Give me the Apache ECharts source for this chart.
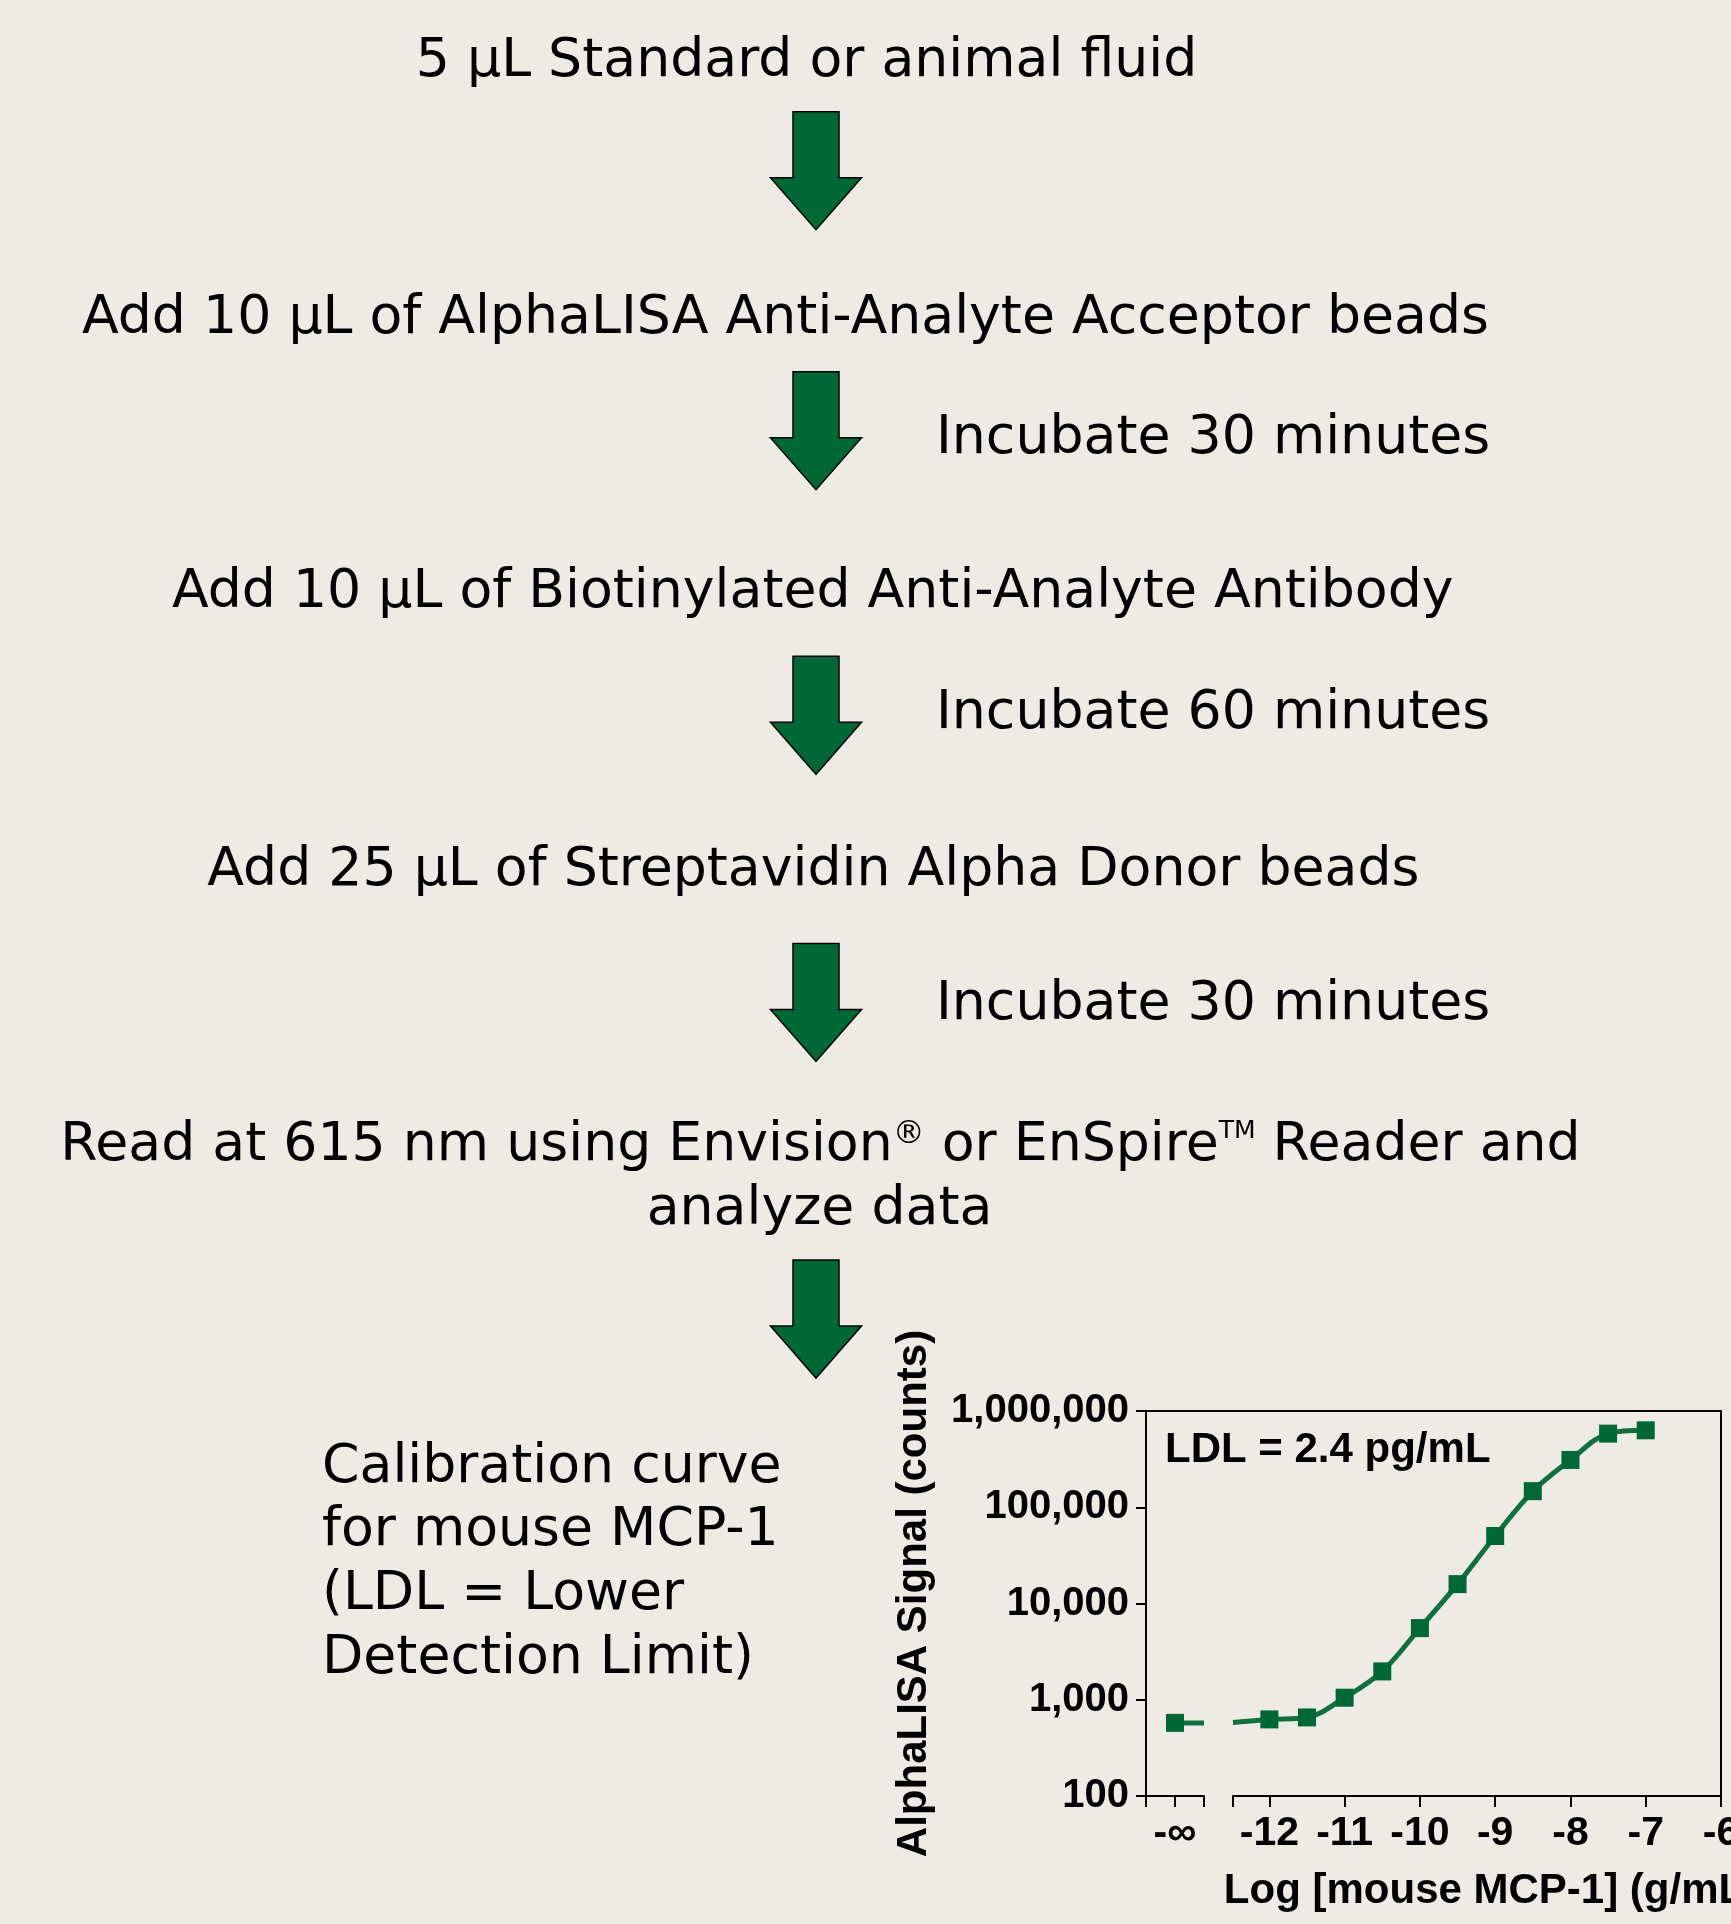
<!DOCTYPE html>
<html><head><meta charset="utf-8">
<script src="https://cdn.jsdelivr.net/npm/echarts@6/dist/echarts.min.js"></script>
<style>html,body{margin:0;padding:0;background:#EDEBE4;}#c{width:1731px;height:1924px;}</style>
</head><body><div id="c"></div>
<script>
// ---------- data ----------
const stepTexts = [
  '5 µL Standard or animal fluid',
  'Add 10 µL of AlphaLISA Anti-Analyte Acceptor beads',
  'Add 10 µL of Biotinylated Anti-Analyte Antibody',
  'Add 25 µL of Streptavidin Alpha Donor beads'
];
const incubateTexts = ['Incubate 30 minutes', 'Incubate 60 minutes', 'Incubate 30 minutes'];
const readLine1 = '{n|Read at 615 nm using Envision}{r|®}{n| or EnSpire}{t|TM}{n| Reader and}';
const readLine2 = 'analyze data';
const noteLines = ['Calibration curve', 'for mouse MCP-1', '(LDL = Lower', 'Detection Limit)'];
const ldlText = 'LDL = 2.4 pg/mL';
const xName = 'Log [mouse MCP-1] (g/mL)';
const yName = 'AlphaLISA Signal (counts)';
const infLabel = '-∞';
const xTickValues = [-12, -11, -10, -9, -8, -7, -6];
const xMinRight = -12.483;
const yTickLabels = ['100', '1,000', '10,000', '100,000', '1,000,000'];
const blankSignal = 575;          // signal at -∞ (no analyte)
const logConc = [-12, -11.5, -11, -10.5, -10, -9.5, -9, -8.5, -8, -7.5, -7];
const signal  = [625, 655, 1050, 1970, 5550, 15900, 50300, 147000, 310000, 582000, 630000];
const curveStartSignal = 580;     // fitted curve value at left end of axis

// ---------- layout / style ----------
const GREEN = '#006837', LINE = '#11703F', BG = '#EDEBE4';
const FLOW_FONT = '53.7px "DejaVu Sans", Verdana, sans-serif';
const AX_FAM = '"Liberation Sans", Arial, Helvetica, sans-serif';
const boxL = 1146, boxR = 1721, boxT = 1411, boxB = 1796;
const segAR = 1204, segBL = 1233;
const arrowCX = 816;
const arrowTops = [111.7, 371.7, 656.3, 943.4, 1260];
const stepPos = [[806.5, 62], [785.5, 319], [812.7, 593], [813.4, 871]];
const incPos = [[936, 439], [936, 714], [936, 1005]];

function arrow(y0) {
  const cx = arrowCX;
  return {
    type: 'polygon',
    shape: { points: [[cx - 23, y0], [cx + 23, y0], [cx + 23, y0 + 66], [cx + 45.5, y0 + 66],
                      [cx, y0 + 118], [cx - 45.5, y0 + 66], [cx - 23, y0 + 66]] },
    style: { fill: GREEN, stroke: '#000', lineWidth: 1.5 }
  };
}
const graphics = [];
arrowTops.forEach(y => graphics.push(arrow(y)));
stepTexts.forEach((t, i) => graphics.push({
  type: 'text', x: stepPos[i][0], y: stepPos[i][1],
  style: { text: t, font: FLOW_FONT, fill: '#000', align: 'center', verticalAlign: 'middle' }
}));
incubateTexts.forEach((t, i) => graphics.push({
  type: 'text', x: incPos[i][0], y: incPos[i][1],
  style: { text: t, font: FLOW_FONT, fill: '#000', align: 'left', verticalAlign: 'middle' }
}));
graphics.push({
  type: 'text', x: 820.5, y: 1146,
  style: { text: readLine1, fill: '#000', align: 'center', verticalAlign: 'middle',
    rich: {
      n: { font: FLOW_FONT, fill: '#000' },
      r: { font: '32px "DejaVu Sans", Verdana, sans-serif', fill: '#000', verticalAlign: 'top', padding: [0, 0, 22, 0] },
      t: { font: '25px "DejaVu Sans", Verdana, sans-serif', fill: '#000', verticalAlign: 'top', padding: [0, 0, 26, 0] }
    } }
});
graphics.push({
  type: 'text', x: 819.5, y: 1210,
  style: { text: readLine2, font: FLOW_FONT, fill: '#000', align: 'center', verticalAlign: 'middle' }
});
graphics.push({
  type: 'text', x: 322, y: 1436,
  style: { text: noteLines.join('\n'), font: FLOW_FONT, fill: '#000', align: 'left', verticalAlign: 'top', lineHeight: 63.7 }
});
graphics.push({
  type: 'text', x: 1165, y: 1450,
  style: { text: ldlText, font: 'bold 42px ' + AX_FAM, fill: '#000', align: 'left', verticalAlign: 'middle' }
});

const axLine = { show: true, onZero: false, lineStyle: { color: '#000', width: 2 } };
const tickStyle = { color: '#000', width: 2 };
const labFont = { fontFamily: AX_FAM, fontWeight: 'bold', color: '#000' };
const gridBase = { containLabel: false, outerBoundsMode: 'none' };

const option = {
  backgroundColor: BG,
  animation: false,
  grid: [
    { ...gridBase, left: boxL, top: boxT, width: segAR - boxL, height: boxB - boxT },
    { ...gridBase, left: segBL, top: boxT, width: boxR - segBL, height: boxB - boxT },
    { ...gridBase, left: boxL, top: boxT, width: boxR - boxL, height: boxB - boxT }
  ],
  xAxis: [
    { gridIndex: 0, type: 'value', min: 0, max: 2, interval: 1,
      axisLine: axLine, splitLine: { show: false },
      axisTick: { show: true, length: 11, lineStyle: tickStyle },
      axisLabel: { ...labFont, fontSize: 41, margin: 17, showMinLabel: true, showMaxLabel: true,
                   formatter: v => (v === 1 ? infLabel : '') } },
    { gridIndex: 1, type: 'value', min: xMinRight, max: -6,
      axisLine: axLine, splitLine: { show: false },
      axisTick: { show: true, length: 11, lineStyle: tickStyle, customValues: [xMinRight].concat(xTickValues) },
      axisLabel: { ...labFont, fontSize: 41, margin: 17, customValues: xTickValues, formatter: v => String(v) },
      name: xName, nameLocation: 'middle', nameGap: 74,
      nameTextStyle: { ...labFont, fontSize: 42, padding: [0, 0, 0, 28] } },
    { gridIndex: 2, type: 'value', position: 'top', min: 0, max: 1,
      axisLine: axLine, axisTick: { show: false }, axisLabel: { show: false }, splitLine: { show: false } }
  ],
  yAxis: [
    { gridIndex: 0, type: 'log', min: 100, max: 1e6, show: false },
    { gridIndex: 1, type: 'log', min: 100, max: 1e6, position: 'right',
      axisLine: axLine, axisTick: { show: false }, axisLabel: { show: false }, splitLine: { show: false } },
    { gridIndex: 2, type: 'log', min: 100, max: 1e6,
      axisLine: axLine, splitLine: { show: false },
      axisTick: { show: true, length: 10, lineStyle: tickStyle },
      axisLabel: { ...labFont, fontSize: 40, margin: 17,
                   formatter: v => yTickLabels[Math.round(Math.log10(v)) - 2] || '' },
      name: yName, nameLocation: 'middle', nameGap: 211,
      nameTextStyle: { ...labFont, fontSize: 42, padding: [0, 0, 0, 20] } }
  ],
  series: [
    { type: 'line', xAxisIndex: 0, yAxisIndex: 0, data: [[1, blankSignal], [2, blankSignal]],
      showSymbol: false, lineStyle: { color: LINE, width: 5 }, z: 2 },
    { type: 'scatter', xAxisIndex: 0, yAxisIndex: 0, data: [[1, blankSignal]],
      symbol: 'rect', symbolSize: 18, itemStyle: { color: GREEN, opacity: 1 }, z: 3 },
    { type: 'line', xAxisIndex: 1, yAxisIndex: 1,
      data: [[xMinRight, curveStartSignal]].concat(logConc.map((x, i) => [x, signal[i]])),
      smooth: 0.35, showSymbol: false, lineStyle: { color: LINE, width: 5 }, z: 2 },
    { type: 'scatter', xAxisIndex: 1, yAxisIndex: 1, data: logConc.map((x, i) => [x, signal[i]]),
      symbol: 'rect', symbolSize: 18, itemStyle: { color: GREEN, opacity: 1 }, z: 3 }
  ],
  graphic: graphics
};
const chart = echarts.init(document.getElementById('c'));
chart.setOption(option);
</script>
</body></html>
